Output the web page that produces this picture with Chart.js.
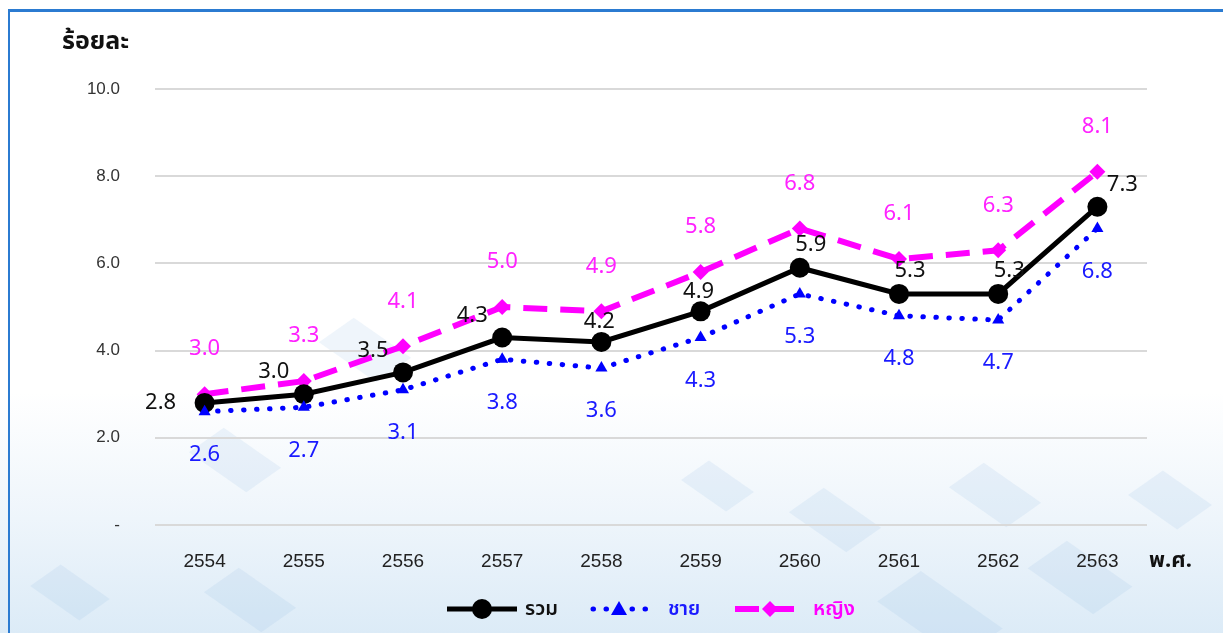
<!DOCTYPE html>
<html>
<head>
<meta charset="utf-8">
<script src="https://cdn.jsdelivr.net/npm/chart.js@4.4.1/dist/chart.umd.min.js"></script>
<style>
    html, body { margin: 0; padding: 0; }
    body {
        width: 1223px; height: 633px; overflow: hidden; position: relative;
        font-family: "Noto Sans", "Noto Sans Thai", "DejaVu Sans", sans-serif;
        background: linear-gradient(180deg, #ffffff 0%, #ffffff 62%, #eef5fb 82%, #dcebf7 100%);
    }
    .frame {
        position: absolute; left: 8px; top: 9px; width: 1240px; height: 640px;
        border-left: 2px solid #2b7bd1; border-top: 3px solid #2b7bd1;
    }
    .deco { position: absolute; background: rgba(120, 175, 225, 0.12); transform: rotate(35deg) skewX(-20deg); }
    #chart { position: absolute; left: 0; top: 0; }
    .ytitle { position: absolute; left: 62px; top: 22px; font-size: 25px; font-weight: bold; color: #111; }
    .xtitle { position: absolute; left: 1149px; top: 543px; font-size: 22px; font-weight: bold; color: #111; }
    .item { position: absolute; top: 594px; height: 30px; display: flex; align-items: center; font-size: 20px; font-weight: 600; }
    .item svg { margin-right: 8px; }
</style>
</head>
<body>
<div class="deco" style="left:200px;top:440px;width:70px;height:40px;"></div>
<div class="deco" style="left:40px;top:575px;width:60px;height:35px;"></div>
<div class="deco" style="left:215px;top:580px;width:70px;height:40px;"></div>
<div class="deco" style="left:330px;top:330px;width:70px;height:40px;"></div>
<div class="deco" style="left:690px;top:470px;width:55px;height:32px;"></div>
<div class="deco" style="left:800px;top:500px;width:70px;height:40px;"></div>
<div class="deco" style="left:890px;top:590px;width:100px;height:50px;"></div>
<div class="deco" style="left:960px;top:475px;width:70px;height:40px;"></div>
<div class="deco" style="left:1040px;top:555px;width:80px;height:45px;"></div>
<div class="deco" style="left:1140px;top:480px;width:60px;height:40px;"></div>
<div class="frame"></div>
<canvas id="chart" width="1223" height="633"></canvas>
<div class="ytitle">ร้อยละ</div>
<div class="xtitle">พ.ศ.</div>
<div class="item" style="left:447px;color:#111">
    <svg width="70" height="24"><line x1="0" y1="12" x2="70" y2="12" stroke="#000" stroke-width="5"/><circle cx="35" cy="12" r="10" fill="#000"/></svg>รวม
</div>
<div class="item" style="left:590px;color:#1a1aff">
    <svg width="58" height="24" style="margin-right:20px"><line x1="3" y1="12" x2="56" y2="12" stroke="#0000ff" stroke-width="5" stroke-dasharray="0.5 12.5" stroke-linecap="round"/><polygon points="29,4 37,18 21,18" fill="#0000ff"/></svg>ชาย
</div>
<div class="item" style="left:735px;color:#ff00ff">
    <svg width="70" height="24"><line x1="0" y1="12" x2="70" y2="12" stroke="#ff00ff" stroke-width="6" stroke-dasharray="24 11"/><polygon points="35,4 43,12 35,20 27,12" fill="#ff00ff"/></svg>หญิง
</div>
<script>
    const years = ['2554', '2555', '2556', '2557', '2558', '2559', '2560', '2561', '2562', '2563'];
    const totalValues = [2.8, 3.0, 3.5, 4.3, 4.2, 4.9, 5.9, 5.3, 5.3, 7.3];
    const maleValues = [2.6, 2.7, 3.1, 3.8, 3.6, 4.3, 5.3, 4.8, 4.7, 6.8];
    const femaleValues = [3.0, 3.3, 4.1, 5.0, 4.9, 5.8, 6.8, 6.1, 6.3, 8.1];
    const yTicks = [0, 2, 4, 6, 8, 10];

    // where the black labels sit relative to their point
    const totalLabelSide = ['left', 'upleft', 'upleft', 'upleft', 'up', 'up', 'upright', 'upright', 'upright', 'right'];
    const sideOffsets = {
        left: [-44, 0], upleft: [-30, -22], up: [-2, -20], upright: [11, -23], right: [25, -22]
    };

    const labelPlugin = {
        id: 'valueLabels',
        afterDatasetsDraw(chart) {
            const ctx = chart.ctx;
            ctx.save();
            ctx.font = '22px "Noto Sans", "DejaVu Sans", sans-serif';
            ctx.textAlign = 'center';
            ctx.textBaseline = 'middle';
            chart.data.datasets.forEach((ds, i) => {
                const meta = chart.getDatasetMeta(i);
                meta.data.forEach((pt, j) => {
                    let dx = 0, dy = 0;
                    if (ds.key === 'total') {
                        [dx, dy] = sideOffsets[totalLabelSide[j]];
                    } else if (ds.key === 'male') {
                        dy = 43;
                    } else {
                        dy = -45;
                    }
                    ctx.fillStyle = ds.labelColor;
                    ctx.fillText(ds.data[j].toFixed(1), pt.x + dx, pt.y + dy);
                });
            });
            ctx.restore();
        }
    };

    new Chart(document.getElementById('chart').getContext('2d'), {
        type: 'line',
        data: {
            labels: years,
            datasets: [
                {
                    key: 'female', label: 'หญิง', data: femaleValues, order: 3,
                    borderColor: '#ff00ff', backgroundColor: '#ff00ff', labelColor: '#ff22ff',
                    borderWidth: 6, borderDash: [24, 13], pointStyle: 'rectRot', pointRadius: 8,
                    pointBorderWidth: 0, tension: 0, fill: false
                },
                {
                    key: 'total', label: 'รวม', data: totalValues, order: 2,
                    borderColor: '#000000', backgroundColor: '#000000', labelColor: '#111111',
                    borderWidth: 5, pointStyle: 'circle', pointRadius: 10,
                    pointBorderWidth: 0, tension: 0, fill: false
                },
                {
                    key: 'male', label: 'ชาย', data: maleValues, order: 1,
                    borderColor: '#0000ff', backgroundColor: '#0000ff', labelColor: '#1a1aff',
                    borderWidth: 5, borderDash: [0.5, 12.5], borderCapStyle: 'round',
                    pointStyle: 'triangle', pointRadius: 7, pointBorderWidth: 0, tension: 0, fill: false
                }
            ]
        },
        options: {
            responsive: false,
            animation: false,
            layout: { padding: { top: 89, right: 76, left: 0, bottom: 0 } },
            plugins: { legend: { display: false }, tooltip: { enabled: false } },
            scales: {
                x: {
                    offset: true,
                    grid: { display: false },
                    border: { display: false },
                    ticks: { color: '#222', font: { size: 19 }, padding: 17 },
                    afterFit: s => { s.height = 108; }
                },
                y: {
                    min: 0, max: 10,
                    afterBuildTicks: s => { s.ticks = yTicks.map(v => ({ value: v })); },
                    grid: { color: '#d9d9d9', lineWidth: 2, drawTicks: false },
                    border: { display: false },
                    ticks: {
                        color: '#333', font: { size: 17 }, padding: 35,
                        callback: v => v === 0 ? '-' : v.toFixed(1)
                    },
                    afterFit: s => { s.width = 155; }
                }
            }
        },
        plugins: [labelPlugin]
    });
</script>
</body>
</html>
